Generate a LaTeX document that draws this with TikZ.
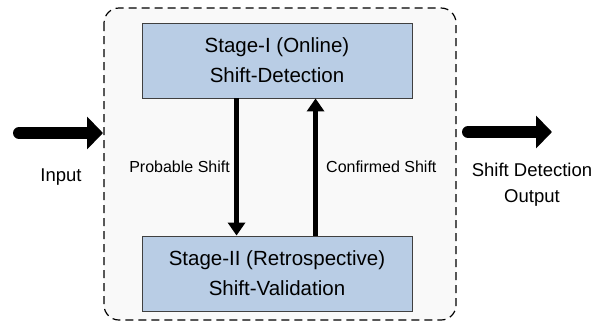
\documentclass[tikz,border=0pt]{standalone}
\usepackage{fontspec}
\setmainfont{Liberation Sans}
\usetikzlibrary{arrows.meta,calc}
\definecolor{stagefill}{HTML}{B9CDE5}
\definecolor{stageedge}{HTML}{404040}
\definecolor{panelfill}{HTML}{F9F9F9}
\tikzset{
  stagebox/.style={draw=stageedge, line width=0.9pt, fill=stagefill, minimum width=270pt, minimum height=75pt, align=center, inner sep=0pt,
    font=\fontsize{20.5pt}{30pt}\selectfont},
  flowarrow/.style={line width=5pt, -{Triangle[length=13pt,width=17pt]}},
  bigarrow/.style={line width=12pt, line cap=round, -{Triangle[length=16pt,width=32pt]}},
  smalllabel/.style={font=\fontsize{16pt}{19pt}\selectfont, inner sep=0pt},
  biglabel/.style={font=\fontsize{18.5pt}{26pt}\selectfont, align=center, inner sep=0pt}
}
\begin{document}
\begin{tikzpicture}[x=1pt,y=-1pt]
\useasboundingbox (0,0) rectangle (593,322);
\draw[line width=1.2pt, dash pattern=on 8pt off 5pt, rounded corners=15pt, fill=panelfill] (104,8) rectangle (456,320);
\node[stagebox] (top) at (277,60.5) {Stage-I (Online)\\Shift-Detection};
\node[stagebox] (bot) at (277,273.5) {Stage-II (Retrospective)\\Shift-Validation};
\draw[flowarrow] ($(top.south west)+(95,0)$) -- ($(bot.north west)+(95,0)$);
\draw[flowarrow] ($(bot.north west)+(174,0)$) -- ($(top.south west)+(174,0)$);
\node[smalllabel, anchor=east] (plab) at (230,167) {Probable Shift};
\node[smalllabel, anchor=west] (clab) at (326,167) {Confirmed Shift};
\coordinate (inS) at (19,133);
\coordinate (inE) at (103,133);
\draw[bigarrow] (inS) -- (inE);
\coordinate (outS) at (468,132);
\coordinate (outE) at (552,132);
\draw[bigarrow] (outS) -- (outE);
\node[biglabel] (inlab) at (61,177) {Input};
\node[biglabel] (outlab) at (532,185) {Shift Detection\\Output};
\end{tikzpicture}
\end{document}
